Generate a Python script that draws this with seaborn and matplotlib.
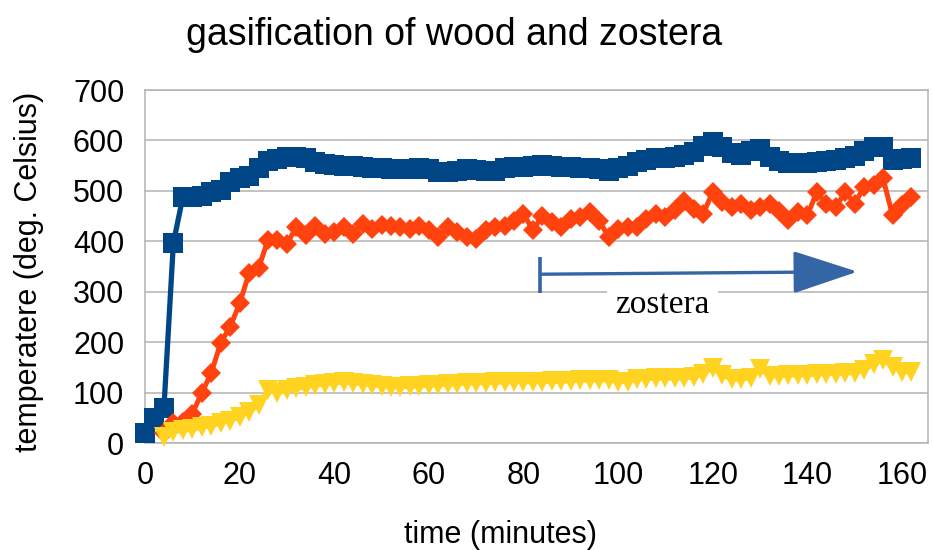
import matplotlib
matplotlib.use("Agg")
import matplotlib.pyplot as plt
from matplotlib.patches import FancyArrowPatch, ArrowStyle
import pandas as pd
import seaborn as sns

# ---------------- data ----------------
time_wood = [0, 2, 4, 6, 8, 10, 12, 14, 16, 18, 20, 22, 24, 26, 28, 30, 32, 34, 36, 38,
             40, 42, 44, 46, 48, 50, 52, 54, 56, 58, 60, 62, 64, 66, 68, 70, 72, 74, 76, 78,
             80, 82, 84, 86, 88, 90, 92, 94, 96, 98, 100, 102, 104, 106, 108, 110, 112, 114,
             116, 118, 120, 122, 124, 126, 128, 130, 132, 134, 136, 138, 140, 142, 144, 146,
             148, 150, 152, 154, 156, 158, 160, 162]
temp_blue = [20, 50, 70, 397, 488, 488, 490, 498, 502, 518, 525, 530, 545, 560, 563, 568, 568,
             565, 558, 554, 552, 550, 550, 548, 546, 545, 543, 543, 544, 545, 543, 538, 537,
             540, 543, 542, 540, 540, 545, 548, 548, 550, 551, 550, 548, 548, 546, 546, 544,
             540, 545, 550, 557, 562, 565, 566, 568, 572, 578, 590, 597, 588, 575, 572, 580,
             583, 568, 560, 556, 555, 555, 558, 560, 562, 566, 570, 580, 588, 588, 562, 563, 566]

time_other = [4, 6, 8, 10, 12, 14, 16, 18, 20, 22, 24, 26, 28, 30, 32, 34, 36, 38,
              40, 42, 44, 46, 48, 50, 52, 54, 56, 58, 60, 62, 64, 66, 68, 70, 72, 74, 76, 78,
              80, 82, 84, 86, 88, 90, 92, 94, 96, 98, 100, 102, 104, 106, 108, 110, 112, 114,
              116, 118, 120, 122, 124, 126, 128, 130, 132, 134, 136, 138, 140, 142, 144, 146,
              148, 150, 152, 154, 156, 158, 160, 162]
temp_orange = [20, 40, 43, 59, 100, 139, 199, 231, 277, 337, 347, 403, 403, 395, 429, 412, 430,
               415, 418, 428, 415, 435, 425, 433, 430, 428, 425, 430, 422, 409, 428, 419, 409,
               405, 422, 428, 430, 441, 455, 422, 451, 438, 428, 445, 448, 458, 441, 409, 425,
               428, 429, 445, 455, 448, 462, 480, 465, 455, 498, 479, 469, 475, 462, 468, 475,
               460, 442, 458, 452, 498, 475, 468, 498, 475, 508, 512, 525, 452, 472, 488]
temp_yellow = [13, 22, 26, 28, 32, 35, 40, 45, 53, 63, 75, 105, 100, 105, 109, 112, 115, 118,
               120, 121, 120, 118, 116, 114, 112, 112, 113, 114, 115, 116, 117, 118, 119, 120,
               120, 121, 121, 122, 122, 122, 122, 123, 123, 124, 125, 125, 126, 126, 122, 122,
               128, 128, 129, 129, 129, 130, 131, 138, 150, 135, 127, 127, 130, 148, 133, 134,
               135, 136, 136, 137, 138, 138, 139, 140, 145, 158, 165, 152, 142, 142]

x_ticks = [0, 20, 40, 60, 80, 100, 120, 140, 160]
y_ticks = [0, 100, 200, 300, 400, 500, 600, 700]

title = "gasification of wood and zostera"
x_label = "time (minutes)"
y_label = "temperatere (deg. Celsius)"
note = "zostera"

# annotation geometry (data coords)
arrow_start = (83.5, 335)
arrow_end = (150.6, 340)
bar_range = (298, 370)
note_pos = (109.3, 274)

# ---------------- style ----------------
BLUE = "#004586"
ORANGE = "#ff420e"
YELLOW = "#ffd320"
ARROW = "#3465a4"
GRID = "#b3b3b3"

sns.set_theme(style="white")
plt.rcParams["font.family"] = ["Liberation Sans", "DejaVu Sans"]

W, H = 933, 550
fig = plt.figure(figsize=(W / 100, H / 100), dpi=100)
left, right, top, bottom = 145, 928, 90, 443.3
ax = fig.add_axes([left / W, 1 - bottom / H, (right - left) / W, (bottom - top) / H])

df_blue = pd.DataFrame({"time": time_wood, "temp": temp_blue})
df_orange = pd.DataFrame({"time": time_other, "temp": temp_orange})
df_yellow = pd.DataFrame({"time": time_other, "temp": temp_yellow})

sns.lineplot(data=df_blue, x="time", y="temp", ax=ax, color=BLUE, linewidth=3.8,
             marker="s", markersize=14.5, markeredgewidth=0, estimator=None, sort=False,
             clip_on=False, zorder=3)
sns.lineplot(data=df_orange, x="time", y="temp", ax=ax, color=ORANGE, linewidth=3.6,
             marker="D", markersize=10.5, markeredgewidth=0, estimator=None, sort=False,
             clip_on=False, zorder=3)
sns.lineplot(data=df_yellow, x="time", y="temp", ax=ax, color=YELLOW, linewidth=3.6,
             marker="v", markersize=14, markeredgewidth=0, estimator=None, sort=False,
             clip_on=False, zorder=3)

ax.set_xlim(0, 165.5)
ax.set_ylim(0, 700)
ax.set_xticks(x_ticks)
ax.set_yticks(y_ticks)

ax.set_axisbelow(True)
ax.yaxis.grid(True, color=GRID, linewidth=1.1)
ax.xaxis.grid(False)
for sp in ax.spines.values():
    sp.set_visible(True)
    sp.set_color(GRID)
    sp.set_linewidth(1.1)

ax.tick_params(axis="both", direction="out", length=8, width=1.1, color=GRID,
               labelsize=22, labelcolor="black")
ax.tick_params(axis="y", pad=7)
ax.tick_params(axis="x", pad=5)

ax.set_xlabel(x_label, fontsize=22, color="black")
ax.set_ylabel(y_label, fontsize=22, color="black")
ax.xaxis.label.set_verticalalignment("center")
ax.yaxis.label.set_verticalalignment("center")
ax.xaxis.set_label_coords((500 - left) / (right - left), (bottom - 535) / (bottom - top))
ax.yaxis.set_label_coords((29 - left) / (right - left), (bottom - 272) / (bottom - top))

fig.text(454 / W, 1 - 35 / H, title, ha="center", va="center", fontsize=27, color="black")

# annotation arrow
ax.plot([arrow_start[0], arrow_start[0]], list(bar_range), color=ARROW, linewidth=2.6,
        solid_capstyle="butt", zorder=5)
arrow = FancyArrowPatch(arrow_start, arrow_end,
                        arrowstyle=ArrowStyle("-|>", head_length=41, head_width=13.5),
                        mutation_scale=1, color=ARROW, linewidth=2.4,
                        shrinkA=0, shrinkB=0, zorder=5)
ax.add_patch(arrow)
ax.text(note_pos[0], note_pos[1], note, ha="center", va="center", fontsize=24,
        family=["Liberation Serif", "DejaVu Serif"], color="black",
        bbox=dict(facecolor="white", edgecolor="none", pad=6), zorder=4)

fig.savefig("out.png", dpi=100)
